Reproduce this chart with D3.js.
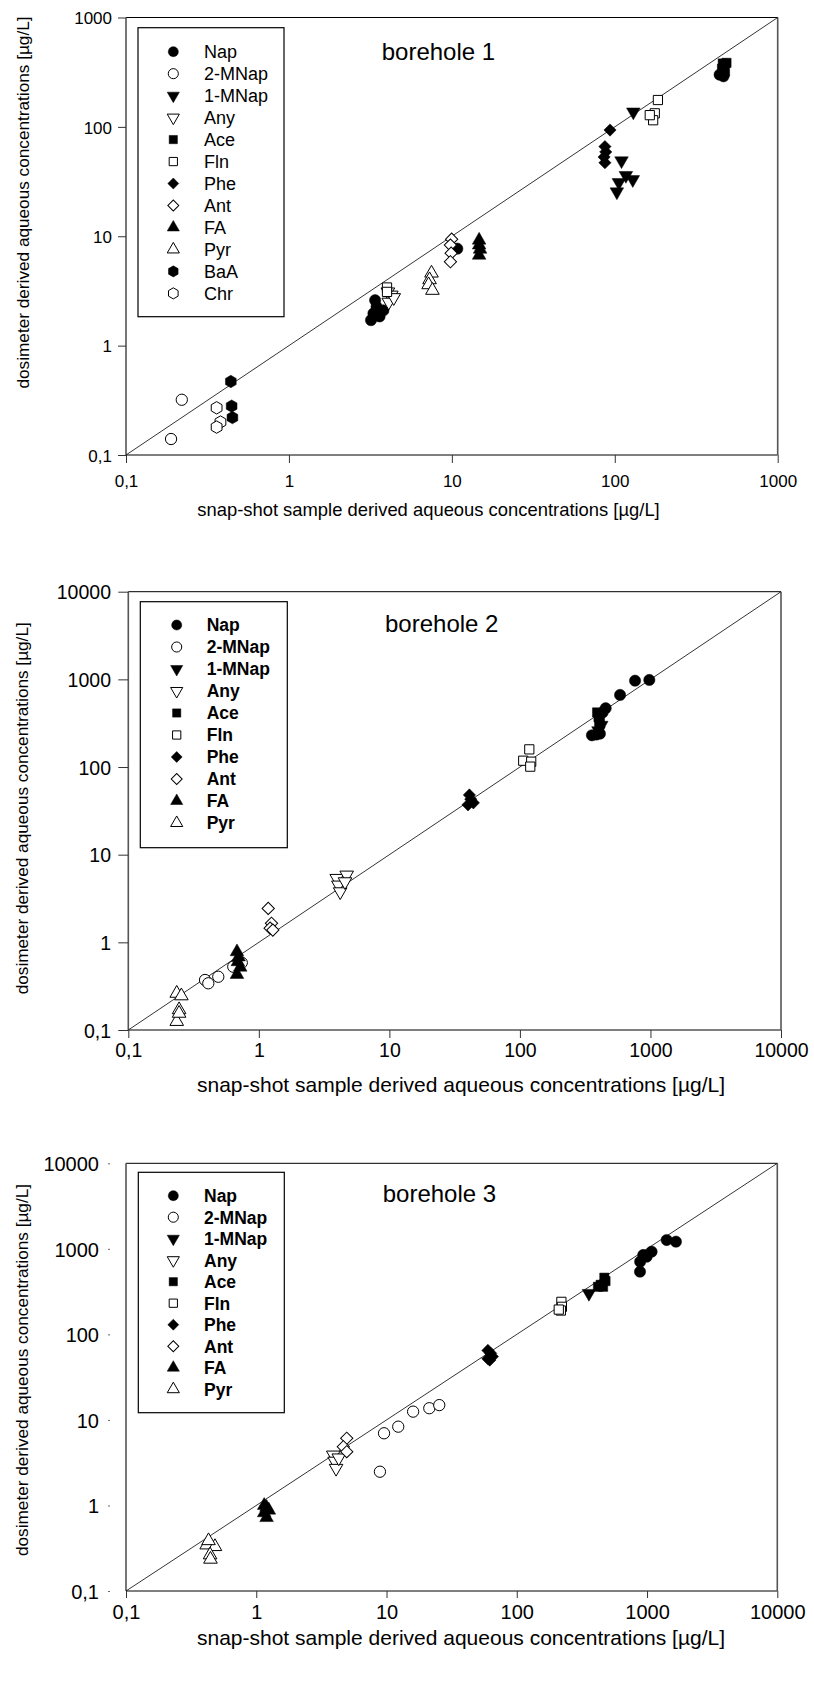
<!DOCTYPE html>
<html><head><meta charset="utf-8">
<script src="https://cdn.jsdelivr.net/npm/d3@7"></script>
<style>
body{margin:0;background:#fff}
svg{display:block}
text{font-family:"Liberation Sans",Arial,Helvetica,sans-serif;fill:#000}
</style>
</head><body>
<svg id="chart" width="814" height="1702"></svg>
<script>
// ---------------- DATA ----------------
const compounds = ["Nap","2-MNap","1-MNap","Any","Ace","Fln","Phe","Ant","FA","Pyr","BaA","Chr"];
const compounds23 = ["Nap","2-MNap","1-MNap","Any","Ace","Fln","Phe","Ant","FA","Pyr"];

const ticks1 = [0.1, 1, 10, 100, 1000];
const tickLabels1 = ["0,1", "1", "10", "100", "1000"];
const ticks23 = [0.1, 1, 10, 100, 1000, 10000];
const tickLabels23 = ["0,1", "1", "10", "100", "1000", "10000"];

const xTitle = "snap-shot sample derived aqueous concentrations [µg/L]";
const yTitle = "dosimeter derived aqueous concentrations [µg/L]";
const titles = ["borehole 1", "borehole 2", "borehole 3"];

// borehole 1: snap-shot (x) and dosimeter (y) values
const b1Snap = {
  "Nap":    [3.19, 3.3, 3.45, 3.38, 3.8, 3.6, 10.8, 440, 465],
  "2-MNap": [0.22, 0.189],
  "1-MNap": [130, 110, 117, 129, 106, 103],
  "Any":    [4.05, 4.25, 4.1, 4.4],
  "Ace":    [460, 485, 455, 475],
  "Fln":    [4.0, 4.0, 184, 176, 172, 164],
  "Phe":    [93.5, 87, 88, 86, 87],
  "Ant":    [9.97, 9.8, 9.9, 9.8],
  "FA":     [14.7, 14.7, 14.9, 14.7],
  "Pyr":    [7.5, 7.3, 7.2, 7.6],
  "BaA":    [0.44, 0.445, 0.45],
  "Chr":    [0.36, 0.38, 0.36]
};
const b1Dos = {
  "Nap":    [1.71, 1.97, 2.27, 2.6, 2.1, 1.85, 7.7, 300, 290],
  "2-MNap": [0.32, 0.14],
  "1-MNap": [137, 49, 36, 33, 31, 25.5],
  "Any":    [3.1, 2.9, 2.5, 2.75],
  "Ace":    [380, 385, 340, 320],
  "Fln":    [3.4, 3.1, 176, 133, 115, 128],
  "Phe":    [93.6, 66, 59, 53, 47],
  "Ant":    [9.4, 8.3, 7.0, 5.85],
  "FA":     [9.2, 8.3, 7.6, 6.7],
  "Pyr":    [4.6, 4.0, 3.6, 3.2],
  "BaA":    [0.47, 0.28, 0.22],
  "Chr":    [0.27, 0.2, 0.18]
};

// borehole 2
const b2Snap = {
  "Nap":    [356, 385, 410, 454, 430, 585, 762, 980],
  "2-MNap": [0.387, 0.41, 0.489, 0.637, 0.74],
  "1-MNap": [400, 420],
  "Any":    [3.95, 4.71, 4.07, 4.2, 4.57],
  "Ace":    [390, 400, 410, 405],
  "Fln":    [118, 106, 122, 120],
  "Phe":    [41, 42, 44, 40],
  "Ant":    [1.18, 1.25, 1.22, 1.28],
  "FA":     [0.68, 0.7, 0.69, 0.72, 0.68],
  "Pyr":    [0.235, 0.255, 0.245, 0.235, 0.245]
};
const b2Dos = {
  "Nap":    [230, 235, 240, 468, 420, 664, 966, 984],
  "2-MNap": [0.372, 0.341, 0.405, 0.527, 0.586],
  "1-MNap": [260, 300],
  "Any":    [5.37, 5.86, 4.51, 3.78, 4.92],
  "Ace":    [420, 370, 330, 300],
  "Fln":    [159, 118, 115, 101],
  "Phe":    [48, 43, 39, 37],
  "Ant":    [2.44, 1.65, 1.45, 1.38],
  "FA":     [0.78, 0.68, 0.6, 0.52, 0.43],
  "Pyr":    [0.262, 0.245, 0.17, 0.125, 0.155]
};

// borehole 3
const b3Snap = {
  "Nap":    [883, 885, 935, 993, 1084, 1415, 1667],
  "2-MNap": [8.9, 9.57, 12.3, 16.0, 21.3, 25.4],
  "1-MNap": [358],
  "Any":    [3.9, 4.0, 4.1, 4.3],
  "Ace":    [470, 480, 440, 460, 420],
  "Fln":    [220, 222, 218, 210],
  "Phe":    [60, 63, 65, 60, 62],
  "Ant":    [4.95, 4.66, 4.95],
  "FA":     [1.15, 1.2, 1.25, 1.15, 1.2],
  "Pyr":    [0.416, 0.482, 0.442, 0.445, 0.43]
};
const b3Dos = {
  "Nap":    [541, 708, 847, 809, 927, 1268, 1213],
  "2-MNap": [2.48, 6.98, 8.34, 12.5, 13.7, 14.9],
  "1-MNap": [302],
  "Any":    [3.89, 3.3, 2.72, 3.6],
  "Ace":    [460, 420, 380, 360, 360],
  "Fln":    [240, 210, 190, 195],
  "Phe":    [65, 60, 55, 52, 50],
  "Ant":    [6.1, 4.86, 4.25],
  "FA":     [1.0, 0.95, 0.88, 0.82, 0.72],
  "Pyr":    [0.345, 0.33, 0.264, 0.235, 0.387]
};

// ---------------- STYLE ----------------
const hexagon = {
  draw(ctx, size) {
    const r = Math.sqrt(size / (1.5 * Math.sqrt(3)));
    for (let i = 0; i < 6; i++) {
      const a = Math.PI / 6 + i * Math.PI / 3;
      const px = r * Math.cos(a), py = r * Math.sin(a);
      if (i === 0) ctx.moveTo(px, py); else ctx.lineTo(px, py);
    }
    ctx.closePath();
  }
};
const markerStyle = {
  "Nap":    {type: d3.symbolCircle,   size: 100, rot: 0,   fill: true},
  "2-MNap": {type: d3.symbolCircle,   size: 100, rot: 0,   fill: false},
  "1-MNap": {type: d3.symbolTriangle, size: 80,  rot: 180, fill: true},
  "Any":    {type: d3.symbolTriangle, size: 80,  rot: 180, fill: false},
  "Ace":    {type: d3.symbolSquare,   size: 85,  rot: 0,   fill: true},
  "Fln":    {type: d3.symbolSquare,   size: 85,  rot: 0,   fill: false},
  "Phe":    {type: d3.symbolSquare,   size: 75,  rot: 45,  fill: true},
  "Ant":    {type: d3.symbolSquare,   size: 75,  rot: 45,  fill: false},
  "FA":     {type: d3.symbolTriangle, size: 80,  rot: 0,   fill: true},
  "Pyr":    {type: d3.symbolTriangle, size: 80,  rot: 0,   fill: false},
  "BaA":    {type: hexagon,           size: 100, rot: 0,   fill: true},
  "Chr":    {type: hexagon,           size: 100, rot: 0,   fill: false}
};

const svg = d3.select("#chart");

function drawMarker(g, name, cx, cy, scale) {
  const st = markerStyle[name];
  g.append("path")
    .attr("d", d3.symbol().type(st.type).size(st.size * scale)())
    .attr("transform", `translate(${cx},${cy}) rotate(${st.rot})`)
    .attr("fill", st.fill ? "#000" : "#fff")
    .attr("stroke", "#000")
    .attr("stroke-width", st.fill ? 0.5 : 1);
}

function panel(cfg) {
  const x = d3.scaleLog().domain(cfg.domain).range([cfg.left, cfg.right]);
  const y = d3.scaleLog().domain(cfg.domain).range([cfg.bottom, cfg.top]);
  const g = svg.append("g");

  // frame
  g.append("line").attr("x1", cfg.left).attr("x2", cfg.right).attr("y1", cfg.top).attr("y2", cfg.top)
    .attr("stroke", "#000").attr("stroke-width", 1);
  g.append("line").attr("x1", cfg.left).attr("x2", cfg.right).attr("y1", cfg.bottom).attr("y2", cfg.bottom)
    .attr("stroke", "#000").attr("stroke-width", 1);
  g.append("line").attr("x1", cfg.left).attr("x2", cfg.left).attr("y1", cfg.top).attr("y2", cfg.bottom)
    .attr("stroke", "#555").attr("stroke-width", 1.6);
  g.append("line").attr("x1", cfg.right).attr("x2", cfg.right).attr("y1", cfg.top).attr("y2", cfg.bottom)
    .attr("stroke", "#555").attr("stroke-width", 1.6);

  // 1:1 line
  g.append("line")
    .attr("x1", x(cfg.domain[0])).attr("y1", y(cfg.domain[0]))
    .attr("x2", x(cfg.domain[1])).attr("y2", y(cfg.domain[1]))
    .attr("stroke", "#000").attr("stroke-width", 0.8);

  // x axis
  const xa = g.append("g").attr("transform", `translate(0,${cfg.bottom})`)
    .call(d3.axisBottom(x).tickValues(cfg.ticks).tickFormat((d, i) => cfg.labels[i]).tickSize(cfg.xTick).tickSizeOuter(0));
  xa.attr("font-family", null).attr("font-size", null);
  xa.select(".domain").remove();
  xa.selectAll(".tick line").attr("stroke", "#333");
  xa.selectAll(".tick text").attr("y", cfg.xLabelY - cfg.bottom).attr("dy", null)
    .style("font-size", cfg.tickFont + "px").attr("fill", "#000");

  // y axis
  const ya = g.append("g").attr("transform", `translate(${cfg.left},0)`)
    .call(d3.axisLeft(y).tickValues(cfg.ticks).tickFormat((d, i) => cfg.labels[i]).tickSize(8).tickSizeOuter(0));
  ya.attr("font-family", null).attr("font-size", null);
  ya.select(".domain").remove();
  ya.selectAll(".tick line").attr("x1", cfg.yTick[0]).attr("x2", cfg.yTick[1]).attr("stroke", cfg.yTickColor);
  ya.selectAll(".tick text").attr("x", cfg.yLabelX - cfg.left).attr("dy", "0.36em")
    .style("font-size", cfg.tickFont + "px").attr("fill", "#000");

  // axis titles
  g.append("text").attr("x", cfg.xTitleX).attr("y", cfg.xTitleY).attr("text-anchor", "middle")
    .style("font-size", cfg.xTitleFont + "px").text(xTitle);
  g.append("text").attr("transform", `translate(${cfg.yTitleX},${cfg.yTitleY}) rotate(-90)`)
    .attr("text-anchor", "middle").attr("dy", "0.35em")
    .style("font-size", "17.2px").text(yTitle);

  // panel title
  g.append("text").attr("x", cfg.titleX).attr("y", cfg.titleY).style("font-size", "24px").text(cfg.title);

  // data
  const pg = g.append("g");
  cfg.items.forEach(name => {
    const xs = cfg.snap[name], ys = cfg.dos[name];
    xs.forEach((v, i) => drawMarker(pg, name, x(v), y(ys[i]), 1));
  });

  // legend
  const lg = g.append("g");
  lg.append("rect").attr("x", cfg.leg.x0).attr("y", cfg.leg.y0)
    .attr("width", cfg.leg.x1 - cfg.leg.x0).attr("height", cfg.leg.y1 - cfg.leg.y0)
    .attr("fill", "#fff").attr("stroke", "#000").attr("stroke-width", 1.2);
  cfg.items.forEach((name, i) => {
    const yy = cfg.leg.first + i * cfg.leg.step;
    drawMarker(lg, name, cfg.leg.symX, yy, 0.8);
    lg.append("text").attr("x", cfg.leg.textX).attr("y", yy).attr("dy", "0.36em")
      .style("font-size", cfg.leg.font + "px").style("font-weight", cfg.leg.weight).text(name);
  });
}

panel({
  domain: [0.1, 1000], ticks: ticks1, labels: tickLabels1,
  left: 126, right: 777.7, top: 17.5, bottom: 455,
  xTick: 8, yTick: [-8, 0], yTickColor: "#333", tickFont: 17,
  xLabelY: 487, yLabelX: 112,
  xTitleX: 428.5, xTitleY: 516, xTitleFont: 18.4,
  yTitleX: 23.3, yTitleY: 202.5,
  title: titles[0], titleX: 381.7, titleY: 60,
  items: compounds, snap: b1Snap, dos: b1Dos,
  leg: {x0: 138, y0: 27.7, x1: 284, y1: 316.7, first: 51.7, step: 21.97, symX: 173.3, textX: 204, font: 18, weight: "normal"}
});

panel({
  domain: [0.1, 10000], ticks: ticks23, labels: tickLabels23,
  left: 128.3, right: 781, top: 591.7, bottom: 1030,
  xTick: 8, yTick: [-10, 0], yTickColor: "#333", tickFont: 19.5,
  xLabelY: 1057, yLabelX: 111,
  xTitleX: 461, xTitleY: 1092, xTitleFont: 21,
  yTitleX: 21.7, yTitleY: 808.3,
  title: titles[1], titleX: 385, titleY: 631.7,
  items: compounds23, snap: b2Snap, dos: b2Dos,
  leg: {x0: 140.3, y0: 601.7, x1: 287.3, y1: 847.7, first: 625, step: 22, symX: 176.7, textX: 206.7, font: 17.5, weight: "bold"}
});

panel({
  domain: [0.1, 10000], ticks: ticks23, labels: tickLabels23,
  left: 126, right: 777.3, top: 1163.3, bottom: 1591,
  xTick: 7, yTick: [-18, -16], yTickColor: "#666", tickFont: 20,
  xLabelY: 1619, yLabelX: 99,
  xTitleX: 461, xTitleY: 1645, xTitleFont: 21,
  yTitleX: 21.7, yTitleY: 1370,
  title: titles[2], titleX: 382.7, titleY: 1201.7,
  items: compounds23, snap: b3Snap, dos: b3Dos,
  leg: {x0: 138.3, y0: 1172.3, x1: 284.3, y1: 1412.7, first: 1195.7, step: 21.5, symX: 173.3, textX: 204, font: 17.5, weight: "bold"}
});
</script>
</body></html>
